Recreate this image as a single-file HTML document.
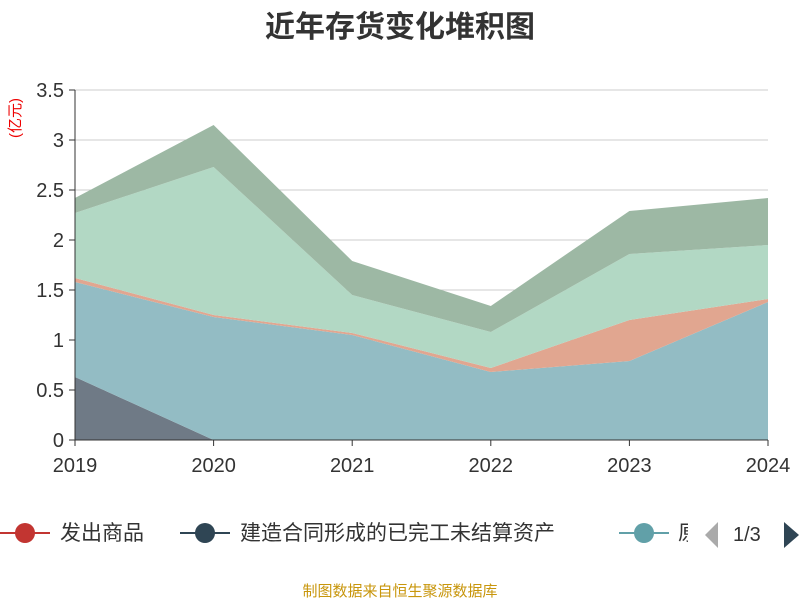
<!DOCTYPE html>
<html><head><meta charset="utf-8"><style>
body{margin:0;background:#fff;width:800px;height:600px;overflow:hidden;font-family:"Liberation Sans","Noto Sans CJK SC",sans-serif}
</style></head><body>
<svg width="800" height="600" xmlns="http://www.w3.org/2000/svg">
<text x="400" y="37" text-anchor="middle" font-size="30" font-weight="bold" fill="#333" font-family="Liberation Sans, Noto Sans CJK SC, sans-serif">近年存货变化堆积图</text>
<text transform="translate(20,118) rotate(-90)" text-anchor="middle" font-size="15" fill="#e00" font-family="Liberation Sans, Noto Sans CJK SC, sans-serif">(亿元)</text>
<g id="grid"></g><g id="areas"></g><g id="axes"></g>
<g font-size="21" fill="#333" font-family="Liberation Sans, Noto Sans CJK SC, sans-serif">
<g><line x1="0" y1="533" x2="50" y2="533" stroke="#c23531" stroke-width="2"/><circle cx="25" cy="533" r="10" fill="#c23531"/><text x="60" y="540">发出商品</text></g>
<g><line x1="180" y1="533" x2="230" y2="533" stroke="#2f4554" stroke-width="2"/><circle cx="205" cy="533" r="10" fill="#2f4554"/><text x="240" y="540">建造合同形成的已完工未结算资产</text></g>
<g><line x1="619" y1="533" x2="669" y2="533" stroke="#61a0a8" stroke-width="2"/><circle cx="644" cy="533" r="10" fill="#61a0a8"/><svg x="676" y="515" width="12" height="30"><text x="2" y="25" font-size="21" fill="#333">原</text></svg></g>
<polygon points="718,522 718,548 705,535" fill="#aaa"/>
<text x="733" y="541" font-size="20">1/3</text>
<polygon points="784,522 784,548 799,535" fill="#2f4554"/>
</g>
<text x="400" y="596" text-anchor="middle" font-size="15" fill="#c8960c" font-family="Liberation Sans, Noto Sans CJK SC, sans-serif">制图数据来自恒生聚源数据库</text>
</svg>
<script>
const years=["2019","2020","2021","2022","2023","2024"];
const jianzao=[0.63,0,0,0,0,0];
const yuancailiao=[0.95,1.23,1.05,0.68,0.79,1.38];
const fachu=[0.04,0.02,0.02,0.04,0.41,0.03];
const series4=[0.65,1.48,0.38,0.36,0.66,0.54];
const series5=[0.15,0.42,0.34,0.26,0.43,0.47];
const yTicks=["0","0.5","1","1.5","2","2.5","3","3.5"];
const NS="http://www.w3.org/2000/svg";
const x=i=>75+i*(693/(years.length-1));
const y=v=>440-v*100;
function mk(t,a,p){const e=document.createElementNS(NS,t);for(const k in a)e.setAttribute(k,a[k]);p.appendChild(e);return e;}
const grid=document.getElementById('grid'),areas=document.getElementById('areas'),axes=document.getElementById('axes');
yTicks.forEach(t=>{const v=parseFloat(t);
 const l=mk('line',{x1:75,x2:768,y1:y(v),y2:y(v),stroke:v===0?'#333':'#ccc','stroke-width':1},grid);
 
 
 const tk=mk('line',{x1:69,x2:75,y1:y(v),y2:y(v),stroke:'#333'},axes);
 
 
 const tx=mk('text',{x:64,y:y(v)+7,'text-anchor':'end','font-size':20,fill:'#333','font-family':'Liberation Sans, sans-serif'},axes);
 tx.textContent=t;
 
 
});
const layers=[[jianzao,'#6f7a86','area-jianzao'],[yuancailiao,'#93bcc4','area-yuancailiao'],[fachu,'#e1a690','area-fachu'],[series4,'#b2d8c4','area-series4'],[series5,'#9db8a4','area-series5']];
let base=years.map(()=>0);
layers.forEach(([d,c,n])=>{
 const top=base.map((b,i)=>b+d[i]);
 const pts=top.map((v,i)=>x(i)+','+y(v)).concat(base.map((v,i)=>x(i)+','+y(v)).reverse()).join(' ');
 const p=mk('polygon',{points:pts,fill:c},areas);
 
 
 base=top;
});
mk('line',{x1:75,x2:75,y1:90,y2:440,stroke:'#333'},axes);
mk('line',{x1:75,x2:768,y1:440,y2:440,stroke:'#333'},axes);
years.forEach((yr,i)=>{
 const tk=mk('line',{x1:x(i),x2:x(i),y1:440,y2:446,stroke:'#333'},axes);
 
 
 const t=mk('text',{x:x(i),y:472,'text-anchor':'middle','font-size':20,fill:'#333','font-family':'Liberation Sans, sans-serif'},axes);
 t.textContent=yr;
 
 
});
</script>
</body></html>
